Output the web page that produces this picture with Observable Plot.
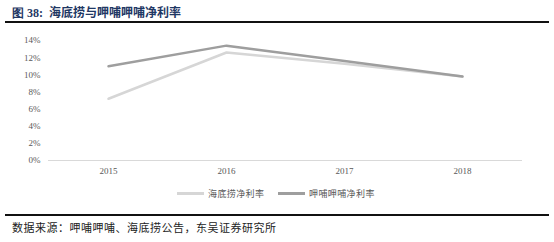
<!DOCTYPE html>
<html><head><meta charset="utf-8">
<script src="https://cdn.jsdelivr.net/npm/d3@7"></script>
<script src="https://cdn.jsdelivr.net/npm/@observablehq/plot@0.6"></script>
<style>
body{margin:0;background:#fff;}
#wrap{position:relative;width:554px;height:242px;overflow:hidden;background:#fff;}
#title{position:absolute;left:12px;top:3px;font-size:12px;font-weight:bold;color:#1f3864;white-space:nowrap;}
#title .num{font-family:"Liberation Serif",serif;}
#title .cn{font-family:"Noto Sans CJK SC",sans-serif;margin-left:3px;}
.rule{position:absolute;left:5px;width:544px;height:2px;background:#111;}
#chart{position:absolute;left:0;top:28px;}
#legend{position:absolute;top:186px;left:0;width:554px;font-family:"Noto Sans CJK SC",sans-serif;font-size:9px;color:#595959;letter-spacing:0.4px;}
.item{position:absolute;top:0;display:flex;align-items:center;height:14px;white-space:nowrap;}
.sw{display:inline-block;width:27px;height:3px;margin-right:4px;}
#caption{position:absolute;left:12px;top:219px;font-family:"Noto Sans CJK SC",sans-serif;font-size:11px;color:#222;white-space:nowrap;letter-spacing:0.5px;}
</style></head>
<body>
<div id="wrap">
  <div id="title"><span class="num">图 38:</span> <span class="cn">海底捞与呷哺呷哺净利率</span></div>
  <div class="rule" style="top:21px"></div>
  <div id="chart"></div>
  <div id="legend"></div>
  <div class="rule" style="top:214px"></div>
  <div id="caption">数据来源：呷哺呷哺、海底捞公告，东吴证券研究所</div>
</div>
<script>
const years = ["2015", "2016", "2017", "2018"];
const seriesNames = ["海底捞净利率", "呷哺呷哺净利率"];
const haidilao = [0.072, 0.126, 0.113, 0.098];
const xiabu = [0.110, 0.134, 0.116, 0.098];
const yTicks = [0, 0.02, 0.04, 0.06, 0.08, 0.10, 0.12, 0.14];
const colors = ["#d6d6d6", "#9e9e9e"];

const data = [];
years.forEach((y, i) => {
  data.push({year: y, value: haidilao[i], series: seriesNames[0]});
  data.push({year: y, value: xiabu[i], series: seriesNames[1]});
});

const chart = Plot.plot({
  width: 554,
  height: 152,
  marginTop: 12,
  marginBottom: 20,
  marginLeft: 48,
  marginRight: 32,
  style: {fontFamily: "'Liberation Serif', serif", fontSize: "9px", color: "#595959", background: "transparent"},
  x: {type: "point", domain: years, padding: 0.5, label: null},
  y: {domain: [0, 0.14], label: null},
  color: {domain: seriesNames, range: colors},
  marks: [
    Plot.ruleY([0], {stroke: "#d9d9d9", strokeWidth: 1}),
    Plot.axisY({ticks: yTicks, tickFormat: d => Math.round(d * 100) + "%", tickSize: 0, tickPadding: 8, label: null}),
    Plot.axisX({tickSize: 0, tickPadding: 7, label: null}),
    Plot.line(data, {x: "year", y: "value", z: "series", stroke: "series", strokeWidth: 2.5})
  ]
});
document.getElementById("chart").appendChild(chart);

const legend = document.getElementById("legend");
const lefts = [177, 278];
seriesNames.forEach((s, i) => {
  const it = document.createElement("div");
  it.className = "item";
  it.style.left = lefts[i] + "px";
  it.innerHTML = `<span class="sw" style="background:${colors[i]}"></span><span>${s}</span>`;
  legend.appendChild(it);
});
</script>
</body></html>
